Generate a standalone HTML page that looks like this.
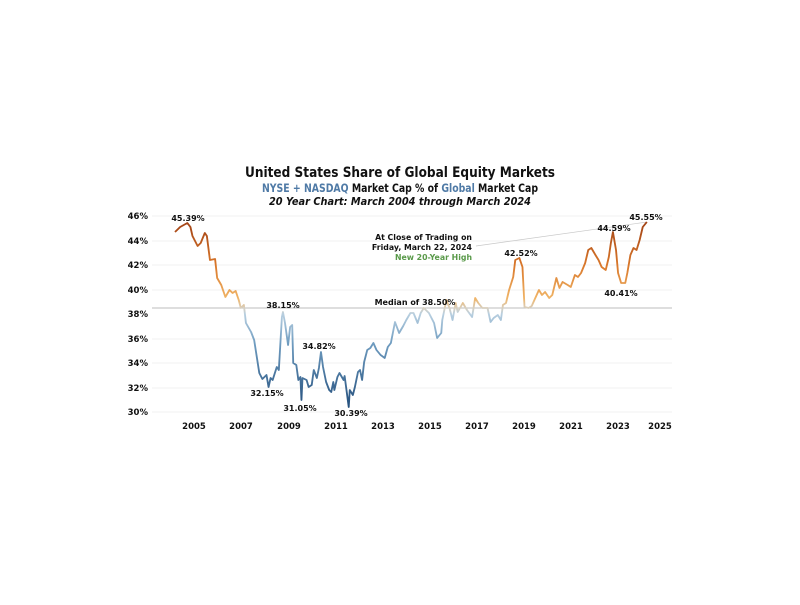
<!DOCTYPE html>
<html><head><meta charset="utf-8"><style>
html,body{margin:0;padding:0;background:#fff;}
svg text{font-family:"DejaVu Sans","Liberation Sans",sans-serif;font-weight:bold;fill:#111;}
</style></head><body>
<svg width="800" height="600" viewBox="0 0 800 600" xmlns="http://www.w3.org/2000/svg">
<defs>
<linearGradient id="g" gradientUnits="userSpaceOnUse" x1="0" y1="216" x2="0" y2="412">
<stop offset="0" stop-color="#9a3b12"/>
<stop offset="0.25" stop-color="#d9772a"/>
<stop offset="0.42" stop-color="#f0b466"/>
<stop offset="0.47" stop-color="#d8d0c0"/>
<stop offset="0.5" stop-color="#b8cfe0"/>
<stop offset="0.65" stop-color="#6f9cc0"/>
<stop offset="1" stop-color="#1f4a78"/>
</linearGradient>
</defs>
<text x="400" y="177" text-anchor="middle" font-size="14" textLength="310" lengthAdjust="spacingAndGlyphs">United States Share of Global Equity Markets</text>
<text x="400" y="192" text-anchor="middle" font-size="11.5" textLength="276" lengthAdjust="spacingAndGlyphs"><tspan style="fill:#4f7aa6">NYSE + NASDAQ</tspan> Market Cap % of <tspan style="fill:#4f7aa6">Global</tspan> Market Cap</text>
<text x="400" y="205" text-anchor="middle" font-size="10.5" font-style="italic" textLength="262" lengthAdjust="spacingAndGlyphs">20 Year Chart: March 2004 through March 2024</text>
<g stroke="#f0f0f0" stroke-width="1">
<line x1="152" y1="216" x2="672" y2="216"/><line x1="152" y1="241" x2="672" y2="241"/><line x1="152" y1="265" x2="672" y2="265"/><line x1="152" y1="290" x2="672" y2="290"/><line x1="152" y1="339" x2="672" y2="339"/><line x1="152" y1="363" x2="672" y2="363"/><line x1="152" y1="388" x2="672" y2="388"/><line x1="152" y1="412" x2="672" y2="412"/>
</g>
<line x1="152" y1="308" x2="672" y2="308" stroke="#bdbdbd" stroke-width="1"/>
<g font-size="8.5" text-anchor="end">
<text x="148" y="219">46%</text><text x="148" y="244">44%</text><text x="148" y="268">42%</text><text x="148" y="293">40%</text><text x="148" y="317">38%</text><text x="148" y="342">36%</text><text x="148" y="366">34%</text><text x="148" y="391">32%</text><text x="148" y="415">30%</text>
</g>
<g font-size="8.5" text-anchor="middle">
<text x="194" y="429">2005</text><text x="241" y="429">2007</text><text x="289" y="429">2009</text><text x="336" y="429">2011</text><text x="383" y="429">2013</text><text x="430" y="429">2015</text><text x="477" y="429">2017</text><text x="524" y="429">2019</text><text x="571" y="429">2021</text><text x="618" y="429">2023</text><text x="660" y="429">2025</text>
</g>
<line x1="476" y1="246" x2="647" y2="222" stroke="#c8c8c8" stroke-width="0.7"/>
<g transform="translate(175,0) scale(1.028,1) translate(-173,0)">
<polyline fill="none" stroke="url(#g)" stroke-width="1.8" stroke-linejoin="round" points="173,232 178,227 185,223 188,227 190,236 195,246 198,243 202,233 204,236 207,260 212,259 214,278 218,285 222,297 226,290 229,293 232,291 235,300 237,308 240,305 242,323 247,332 250,340 255,373 258,379 262,375 264,387 266,378 268,380 272,367 274,370 277,317 278,312 280,323 283,345 285,327 287,325 288,363 291,365 293,380 295,377 296,400 297,378 301,380 303,387 306,385 308,370 311,378 313,368 315,352 317,367 320,382 323,390 325,392 327,382 328,390 331,377 333,373 337,380 338,376 342,407 343,390 346,395 348,387 351,372 353,370 355,380 357,362 360,350 363,348 366,343 369,350 373,355 377,358 380,347 383,343 387,322 391,333 395,326 398,320 402,313 405,313 409,323 412,313 415,308 420,313 425,323 428,338 432,333 433,320 437,300 440,308 443,320 446,303 448,312 453,303 457,310 462,317 465,298 468,303 472,308 477,308 480,322 483,318 487,315 490,320 492,305 495,303 498,290 502,277 504,260 508,258 511,267 513,307 517,308 520,306 527,290 530,295 533,292 537,298 540,295 544,278 547,288 550,282 555,285 558,287 562,275 565,277 568,273 572,263 575,250 578,248 582,255 585,260 588,267 592,270 595,257 597,243 599,232 602,250 604,273 607,283 611,283 613,273 616,255 619,248 622,250 625,240 628,227 632,222"/>
</g>
<g font-size="8" text-anchor="middle">
<text x="188" y="221">45.39%</text>
<text x="646" y="220">45.55%</text>
<text x="614" y="231">44.59%</text>
<text x="521" y="256">42.52%</text>
<text x="621" y="296">40.41%</text>
<text x="283" y="308">38.15%</text>
<text x="415" y="305">Median of 38.50%</text>
<text x="319" y="349">34.82%</text>
<text x="267" y="396">32.15%</text>
<text x="300" y="411">31.05%</text>
<text x="351" y="416">30.39%</text>
</g>
<g font-size="7.8" text-anchor="end">
<text x="472" y="240">At Close of Trading on</text>
<text x="472" y="250">Friday, March 22, 2024</text>
<text x="472" y="260" style="fill:#5a9a4a">New 20-Year High</text>
</g>
</svg>
</body></html>
